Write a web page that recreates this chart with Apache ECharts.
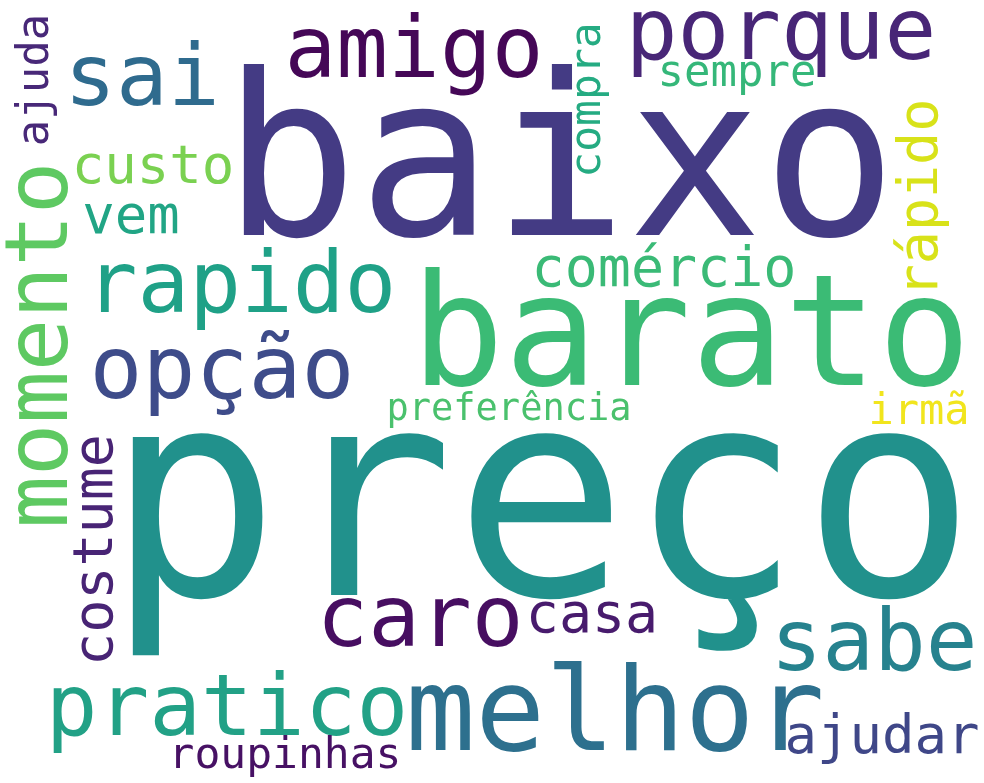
<!doctype html>
<html>
	<head>
		<meta charset="utf-8">
		<title>Word cloud</title>
		<style>
			html, body { margin: 0; padding: 0; background: #fff; }
		</style>
	</head>
	<body>
		<div id="container" style="height: 783px; width: 984px;"></div>

		<script src="https://cdn.jsdelivr.net/npm/echarts@6/dist/echarts.min.js"></script>

		<script>
			// words and their relative frequency (largest = 1)
			const words = ['preço', 'baixo', 'barato', 'melhor', 'pratico', 'caro', 'sabe', 'amigo', 'porque',
				'sai', 'rapido', 'opção', 'momento', 'custo', 'vem', 'comércio', 'costume', 'casa', 'ajudar',
				'rápido', 'compra', 'sempre', 'ajuda', 'roupinhas', 'irmã', 'preferência'];
			const freq = [1.00, 0.775, 0.536, 0.401, 0.298, 0.298, 0.298, 0.298, 0.298,
				0.298, 0.298, 0.304, 0.301, 0.187, 0.187, 0.190, 0.190, 0.190, 0.187,
				0.190, 0.149, 0.152, 0.152, 0.149, 0.145, 0.128];

			// where the cloud put each word: [x, y, rotate]
			const layout = [
				[541, 520, 0], [560, 177, 0], [691, 345, 0], [615, 720, 0], [227, 713, 0], [420, 624, 0],
				[874, 648, 0], [414, 55, 0], [781, 37, 0], [142, 83, 0], [241, 290, 0], [222, 375, 0],
				[44, 345, 90], [153, 169, 0], [131, 219, 0], [664, 272, 0], [98, 550, 90], [592, 618, 0],
				[882, 739, 0], [923, 198, 90], [589, 100, 90], [737, 75, 0], [37, 80, 90], [285, 757, 0],
				[919, 413, 0], [509, 410, 0]
			];

			// viridis colours picked per word
			const colors = ['#21918c', '#443b84', '#3bbb75', '#2d708e', '#22a186', '#470e61', '#26828e', '#450757', '#482677',
				'#2f6b8e', '#1fa187', '#3e4c8a', '#5ec962', '#7ad151', '#21a585', '#3aba76', '#482475', '#481b6d', '#3f4788',
				'#d8e219', '#25ab82', '#35b779', '#482878', '#471164', '#f1e51d', '#4ac16d'];

			const maxFont = 289;

			var dom = document.getElementById("container");
			var myChart = echarts.init(dom, null, {renderer: 'canvas'});

			let points = words.map((w, i) => ({
				value: [layout[i][0], layout[i][1]],
				name: w,
				label: {
					rotate: layout[i][2],
					fontSize: Math.round(freq[i] * maxFont),
					color: colors[i]
				}
			}));

			let opts = {
				animation: false,
				backgroundColor: '#fff',
				grid: {left: 0, right: 0, top: 0, bottom: 0},
				xAxis: {type: 'value', min: 0, max: 984, show: false},
				yAxis: {type: 'value', min: 0, max: 783, inverse: true, show: false},
				series: [{
					type: 'scatter',
					symbolSize: 1,
					itemStyle: {color: 'rgba(0,0,0,0)', opacity: 1},
					label: {
						show: true,
						position: 'inside',
						formatter: '{b}',
						fontFamily: 'DejaVu Sans Mono',
						align: 'center',
						verticalAlign: 'middle',
						opacity: 1
					},
					emphasis: {disabled: true},
					data: points
				}]
			};

			myChart.setOption(opts, true);
		</script>
	</body>
</html>
